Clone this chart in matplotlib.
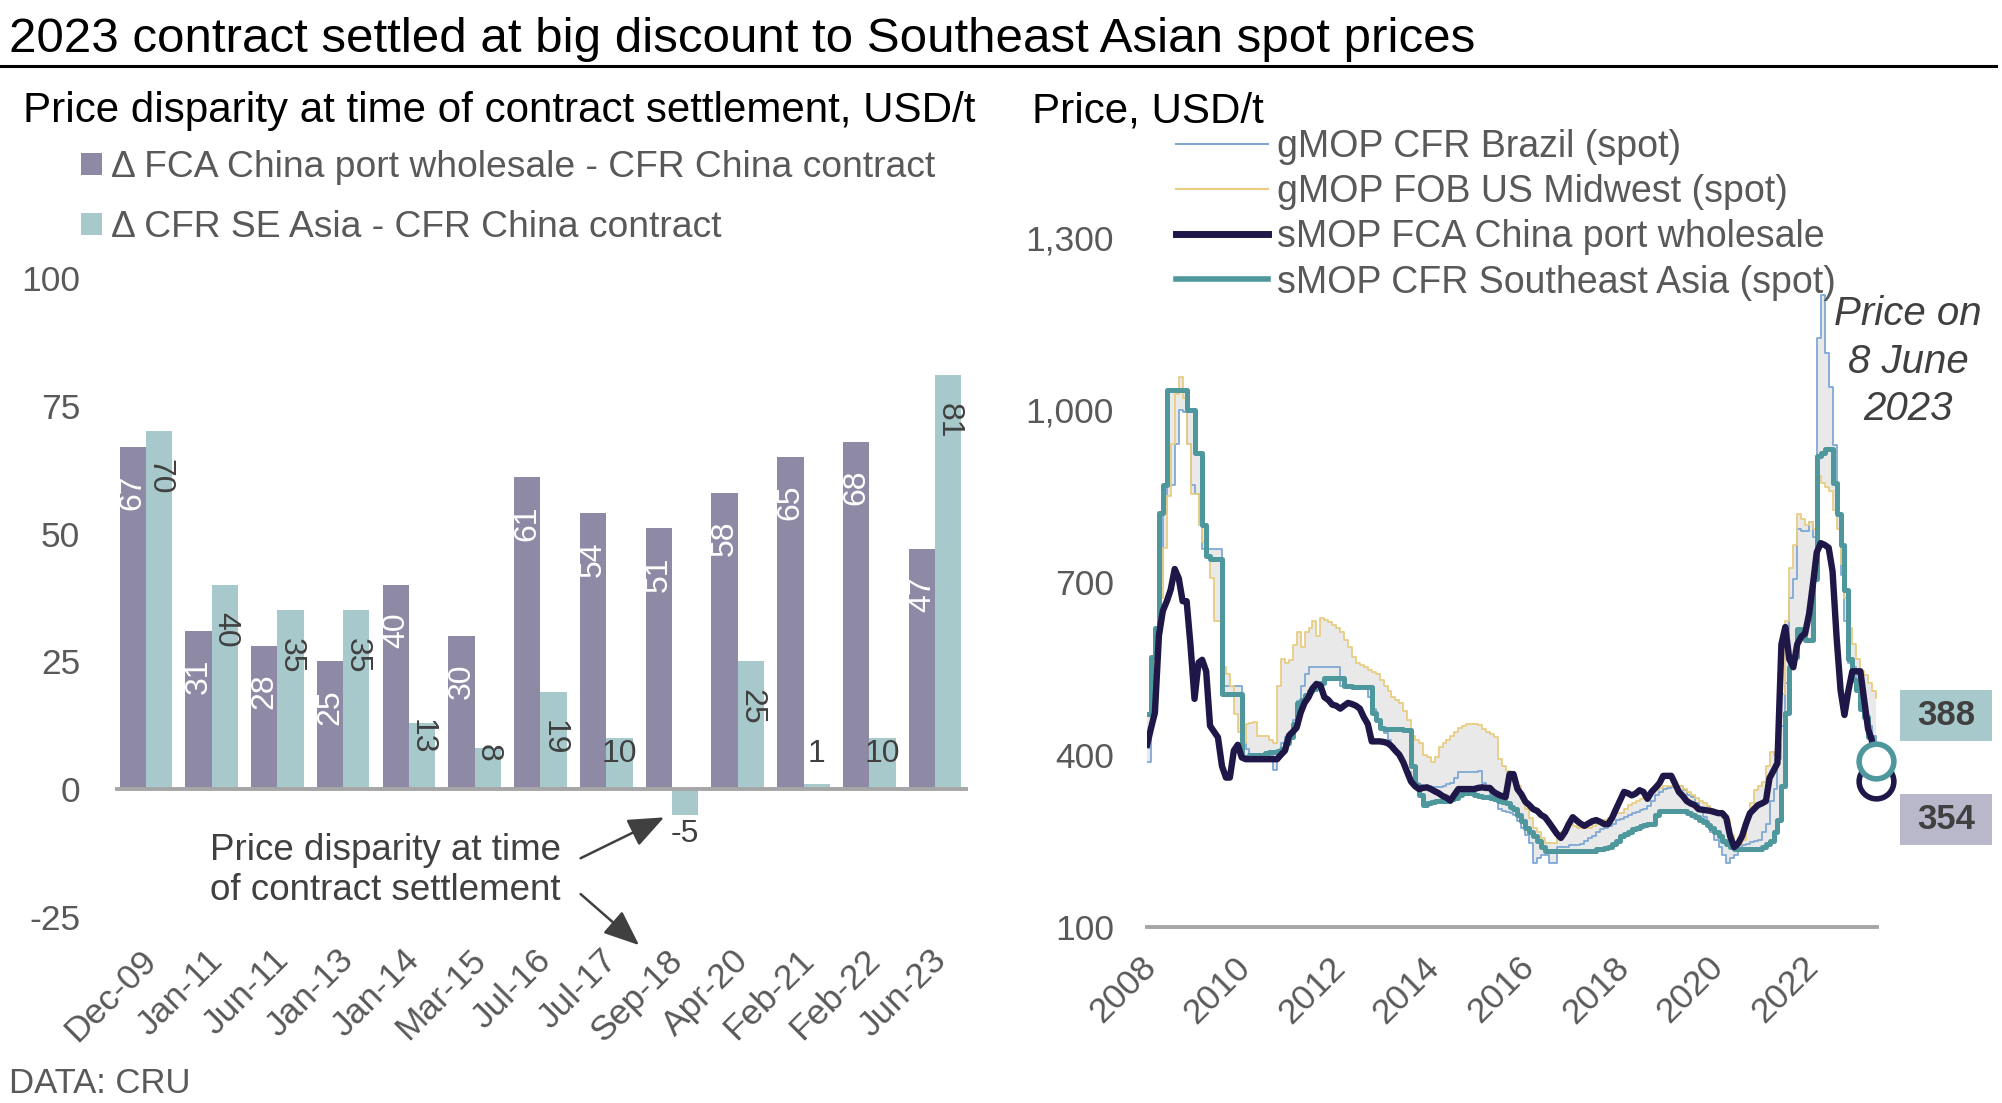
import matplotlib.pyplot as plt
import matplotlib.dates as mdates
import matplotlib.transforms as mtransforms
from matplotlib.lines import Line2D
from matplotlib.patches import Rectangle
import numpy as np
import pandas as pd

plt.rcParams['font.family'] = ['Liberation Sans', 'DejaVu Sans']
plt.rcParams['axes.unicode_minus'] = False

# ---- left panel: price gaps at contract settlement, USD/t
settle_dates = ['Dec-09', 'Jan-11', 'Jun-11', 'Jan-13', 'Jan-14', 'Mar-15', 'Jul-16',
                'Jul-17', 'Sep-18', 'Apr-20', 'Feb-21', 'Feb-22', 'Jun-23']
fca_gap = [67, 31, 28, 25, 40, 30, 61, 54, 51, 58, 65, 68, 47]
sea_gap = [70, 40, 35, 35, 13, 8, 19, 10, -5, 25, 1, 10, 81]

# ---- right panel: monthly prices, USD/t (Jan 2008 - Jun 2023)
months = pd.date_range('2008-01-01', '2023-06-01', freq='MS')
brazil = [
    387, 480, 560, 700, 820, 867, 870, 940, 1000, 997, 940, 870,
    853, 800, 757, 757, 757, 757, 757, 520, 520, 520, 520, 520,
    420, 410, 400, 400, 400, 400, 400, 400, 373, 407, 420, 430,
    440, 460, 493, 520, 540, 553, 553, 553, 553, 553, 553, 553,
    553, 520, 520, 520, 520, 520, 520, 520, 500, 480, 460, 445,
    437, 425, 415, 405, 395, 380, 370, 360, 350, 347, 345, 345,
    344, 343, 343, 345, 348, 350, 360, 370, 370, 370, 370, 370,
    372, 350, 338, 330, 320, 305, 302, 300, 298, 295, 285, 272,
    260, 246, 212, 220, 225, 225, 212, 212, 239, 240, 240, 242,
    242, 242, 245, 250, 255, 258, 265, 270, 272, 275, 280, 286,
    288, 292, 295, 298, 300, 303, 305, 310, 320, 329, 335, 340,
    342, 343, 345, 345, 338, 330, 326, 315, 305, 291, 280, 265,
    252, 240, 225, 212, 220, 225, 232, 242, 245, 248, 250, 252,
    265, 279, 319, 340, 392, 450, 525, 672, 705, 792, 790, 790,
    805, 779, 1125, 1200, 1099, 1039, 939, 819, 712, 632, 560, 552,
    519, 495, 472, 450, 432, 420,
]
us_midwest = [
    447, 540, 600, 673, 760, 850, 940, 1027, 1057, 1020, 940, 853,
    853, 800, 770, 747, 707, 633, 633, 553, 540, 520, 470, 440,
    420, 453, 455, 457, 433, 433, 433, 425, 420, 520, 567, 560,
    565, 590, 613, 587, 613, 620, 633, 607, 637, 635, 630, 625,
    620, 613, 600, 587, 570, 560, 556, 553, 548, 543, 540, 530,
    520, 510, 500, 495, 490, 475, 460, 433, 425, 420, 400, 395,
    387, 395, 413, 420, 425, 433, 440, 447, 450, 453, 453, 453,
    452, 445, 439, 435, 430, 392, 380, 372, 365, 359, 345, 325,
    305, 290, 272, 265, 255, 246, 246, 246, 255, 265, 272, 279,
    275, 272, 272, 272, 272, 275, 280, 284, 286, 290, 294, 298,
    298, 305, 312, 315, 319, 322, 325, 329, 333, 338, 342, 345,
    345, 345, 345, 345, 340, 335, 329, 325, 319, 315, 310, 305,
    300, 295, 290, 286, 260, 239, 245, 252, 290, 315, 338, 345,
    352, 380, 405, 400, 420, 505, 632, 725, 765, 819, 810, 799,
    805, 792, 885, 873, 865, 859, 826, 792, 732, 672, 620, 592,
    566, 545, 538, 525, 510, 498,
]
china_port = [
    417, 447, 473, 607, 650, 667, 687, 723, 707, 667, 667, 590,
    497, 560, 565, 545, 450, 440, 430, 380, 360, 360, 407, 417,
    395, 392, 392, 392, 392, 392, 392, 392, 392, 392, 400, 407,
    433, 440, 447, 473, 490, 500, 515, 523, 520, 500, 495, 487,
    485, 480, 485, 490, 488, 485, 480, 465, 453, 423, 423, 423,
    422, 420, 415, 407, 400, 387, 370, 353, 345, 340, 342, 343,
    340, 336, 333, 328, 325, 320, 330, 340, 340, 340, 340, 340,
    342, 343, 342, 342, 335, 331, 328, 326, 366, 366, 340, 331,
    318, 312, 305, 302, 295, 291, 282, 272, 262, 255, 265, 279,
    291, 285, 280, 276, 280, 284, 286, 283, 279, 279, 290, 305,
    320, 335, 333, 329, 332, 338, 335, 323, 335, 342, 350, 363,
    363, 363, 350, 335, 328, 319, 315, 312, 305, 304, 303, 302,
    300, 298, 298, 290, 258, 239, 245, 258, 280, 298, 305, 312,
    315, 319, 359, 372, 385, 592, 622, 566, 552, 592, 605, 611,
    645, 699, 752, 768, 765, 760, 719, 605, 512, 469, 512, 545,
    545, 545, 498, 445, 425, 354,
]
se_asia = [
    470, 570, 620, 820, 870, 1035, 1035, 1035, 1035, 1035, 1000, 1000,
    925, 925, 800, 745, 740, 740, 740, 505, 505, 505, 505, 505,
    395, 395, 400, 400, 400, 400, 402, 405, 405, 407, 410, 420,
    430, 453, 490, 495, 503, 510, 515, 520, 525, 533, 533, 533,
    533, 533, 520, 520, 518, 518, 517, 517, 517, 473, 460, 447,
    445, 445, 445, 444, 444, 443, 443, 380, 347, 330, 313, 315,
    318, 320, 320, 320, 320, 322, 325, 330, 333, 333, 333, 330,
    328, 327, 327, 325, 322, 319, 318, 315, 308, 305, 295, 285,
    272, 265, 258, 250, 240, 232, 232, 232, 232, 232, 232, 232,
    232, 232, 232, 232, 232, 233, 235, 236, 238, 240, 245, 250,
    258, 262, 266, 270, 272, 275, 278, 280, 279, 295, 302, 302,
    302, 302, 302, 302, 302, 298, 295, 291, 287, 282, 277, 272,
    265, 258, 250, 245, 239, 236, 236, 236, 236, 236, 236, 236,
    240, 245, 250, 265, 286, 345, 472, 552, 570, 618, 610, 600,
    599, 705, 920, 925, 932, 932, 873, 819, 765, 686, 566, 530,
    512, 480, 465, 430, 410, 388,
]

PURPLE = '#8E89A5'
TEAL_BAR = '#A8C9CC'
NAVY = '#1E1748'
TEAL = '#4E979C'
BLUE = '#7FA8D5'
YELLOW = '#E8CD82'
GREY_TXT = '#595959'
DARK_TXT = '#404040'
AXIS_GREY = '#A6A6A6'

fig = plt.figure(figsize=(20.02, 11.03), dpi=100)

# title + rule
fig.text(0.0045, 0.953, '2023 contract settled at big discount to Southeast Asian spot prices',
         fontsize=35.5, color='black', va='baseline')
fig.add_artist(Line2D([0, 0.997], [0.940, 0.940], color='black', lw=2.2))

# ---------------- left: bars
ax1 = fig.add_axes([0.0574, 0.1686, 0.4261, 0.5794])
x = np.arange(len(settle_dates))
w = 0.4
ax1.bar(x - w / 2, fca_gap, w, color=PURPLE, label='\u0394 FCA China port wholesale - CFR China contract')
ax1.bar(x + w / 2, sea_gap, w, color=TEAL_BAR, label='\u0394 CFR SE Asia - CFR China contract')
ax1.axhline(0, color=AXIS_GREY, lw=2.8, zorder=3)
ax1.set_xlim(-0.47, 12.5)
ax1.set_ylim(-25, 100)
ax1.set_yticks([-25, 0, 25, 50, 75, 100])
ax1.set_xticks(x)
ax1.set_xticklabels(settle_dates, rotation=45, ha='right', va='top', rotation_mode='anchor')
for s in ax1.spines.values():
    s.set_visible(False)
ax1.tick_params(length=0, labelsize=25.5, labelcolor=GREY_TXT)
ax1.tick_params(axis='y', pad=25)
ax1.tick_params(axis='x', pad=19)
shift_l = mtransforms.ScaledTranslation(-6 / 100, 0, fig.dpi_scale_trans)
for lab in ax1.get_xticklabels():
    lab.set_transform(lab.get_transform() + shift_l)

flat_labels = {7, 10, 11}
for i, (a, b) in enumerate(zip(fca_gap, sea_gap)):
    ax1.annotate(str(a), (i - w / 2, a), xytext=(0, -20), textcoords='offset points',
                 rotation=90, ha='center', va='top', color='white', fontsize=23)
    if b < 0:
        ax1.annotate(str(b), (i + w / 2, b), xytext=(0, -3), textcoords='offset points',
                     ha='center', va='top', color=DARK_TXT, fontsize=23)
    elif i in flat_labels:
        ax1.annotate(str(b), (i + w / 2, max(b, 10)), xytext=(0, -1), textcoords='offset points',
                     ha='center', va='top', color=DARK_TXT, fontsize=23)
    elif b < 15:
        ax1.annotate(str(b), (i + w / 2, b), xytext=(0, 3), textcoords='offset points',
                     rotation=-90, ha='center', va='top', color=DARK_TXT, fontsize=23)
    else:
        ax1.annotate(str(b), (i + w / 2, b), xytext=(0, -20), textcoords='offset points',
                     rotation=-90, ha='center', va='top', color=DARK_TXT, fontsize=23)

ax1.text(3.64, -15.9, 'Price disparity at time\nof contract settlement', ha='center', va='center',
         fontsize=26.5, color=DARK_TXT, linespacing=1.15)
arrow = dict(arrowstyle='-|>,head_length=1.1,head_width=0.45', color=DARK_TXT, lw=1.8,
             mutation_scale=20, shrinkA=0, shrinkB=0)
ax1.annotate('', xy=(7.88, -5.5), xytext=(6.61, -13.5), arrowprops=arrow, annotation_clip=False)
ax1.annotate('', xy=(7.50, -30.5), xytext=(6.61, -20.5), arrowprops=arrow, annotation_clip=False)

fig.text(0.0115, 0.899, 'Price disparity at time of contract settlement, USD/t',
         fontsize=30.3, color='black', va='center')
leg1 = ax1.legend(loc='upper left', bbox_to_anchor=(0.0405, 0.864), bbox_transform=fig.transFigure,
                  frameon=False, fontsize=26.8, handlelength=0.55, handleheight=0.55,
                  handletextpad=0.25, labelspacing=0.68, borderpad=0, borderaxespad=0)
for t in leg1.get_texts():
    t.set_color(GREY_TXT)

# ---------------- right: price lines
ax2 = fig.add_axes([0.573, 0.1596, 0.3646, 0.6251])
lo = np.minimum.reduce([brazil, us_midwest, se_asia])
hi = np.maximum.reduce([brazil, us_midwest, se_asia])
ax2.fill_between(months, lo, hi, step='post', color='#E9E9E9', lw=0, zorder=1)
ax2.plot(months, brazil, color=BLUE, lw=1.3, drawstyle='steps-post', zorder=2)
ax2.plot(months, us_midwest, color=YELLOW, lw=1.3, drawstyle='steps-post', zorder=2)
ax2.plot(months, se_asia, color=TEAL, lw=3.6, drawstyle='steps-post', zorder=3)
ax2.plot(months, china_port, color=NAVY, lw=4.6, zorder=4)
ax2.plot(months[-1:], china_port[-1:], 'o', ms=25, mfc='white', mec=NAVY, mew=4, zorder=5, clip_on=False)
ax2.plot(months[-1:], se_asia[-1:], 'o', ms=25, mfc='white', mec=TEAL, mew=4, zorder=6, clip_on=False)

ax2.set_ylim(100, 1300)
ax2.set_yticks([100, 400, 700, 1000, 1300])
ax2.yaxis.set_major_formatter(plt.FuncFormatter(lambda v, p: f'{v:,.0f}'))
ax2.set_xlim(pd.Timestamp('2008-01-01'), pd.Timestamp('2023-06-10'))
ax2.xaxis.set_major_locator(mdates.YearLocator(2))
ax2.xaxis.set_major_formatter(mdates.DateFormatter('%Y'))
for k, s in ax2.spines.items():
    s.set_visible(k == 'bottom')
ax2.spines['bottom'].set_color(AXIS_GREY)
ax2.spines['bottom'].set_linewidth(2.8)
ax2.tick_params(length=0, labelsize=25.5, labelcolor=GREY_TXT)
ax2.tick_params(axis='y', pad=24)
ax2.tick_params(axis='x', pad=17)
fig.canvas.draw()
shift_r = mtransforms.ScaledTranslation(-8 / 100, 0, fig.dpi_scale_trans)
for lab in ax2.get_xticklabels():
    lab.set_rotation(45)
    lab.set_ha('right')
    lab.set_va('top')
    lab.set_rotation_mode('anchor')
    lab.set_transform(lab.get_transform() + shift_r)

fig.text(0.5155, 0.8985, 'Price, USD/t', fontsize=30.3, color='black', va='center')
handles = [Line2D([], [], color=BLUE, lw=1.5), Line2D([], [], color=YELLOW, lw=1.5),
           Line2D([], [], color=NAVY, lw=5), Line2D([], [], color=TEAL, lw=4)]
names = ['gMOP CFR Brazil (spot)', 'gMOP FOB US Midwest (spot)',
         'sMOP FCA China port wholesale', 'sMOP CFR Southeast Asia (spot)']
leg2 = ax2.legend(handles, names, loc='upper left', bbox_to_anchor=(0.5874, 0.883),
                  bbox_transform=fig.transFigure, frameon=False, fontsize=27,
                  handlelength=2.45, handletextpad=0.25, labelspacing=0.245,
                  borderpad=0, borderaxespad=0)
for t in leg2.get_texts():
    t.set_color(GREY_TXT)

fig.text(0.953, 0.672, 'Price on\n8 June\n2023', fontsize=29, style='italic', color=DARK_TXT,
         ha='center', va='center', linespacing=1.32)

# end-value boxes
fig.add_artist(Rectangle((0.949, 0.3282), 0.046, 0.0462, transform=fig.transFigure,
                         facecolor=TEAL_BAR, edgecolor='none'))
fig.add_artist(Rectangle((0.949, 0.2339), 0.046, 0.0462, transform=fig.transFigure,
                         facecolor='#B9B7CA', edgecolor='none'))
fig.text(0.972, 0.3513, f'{se_asia[-1]:.0f}', fontsize=25, fontweight='bold', color=DARK_TXT,
         ha='center', va='center')
fig.text(0.972, 0.2570, f'{china_port[-1]:.0f}', fontsize=25, fontweight='bold', color=DARK_TXT,
         ha='center', va='center')

fig.text(0.0045, 0.018, 'DATA: CRU', fontsize=25, color=GREY_TXT, va='center')

fig.savefig('out.png', dpi=100)
